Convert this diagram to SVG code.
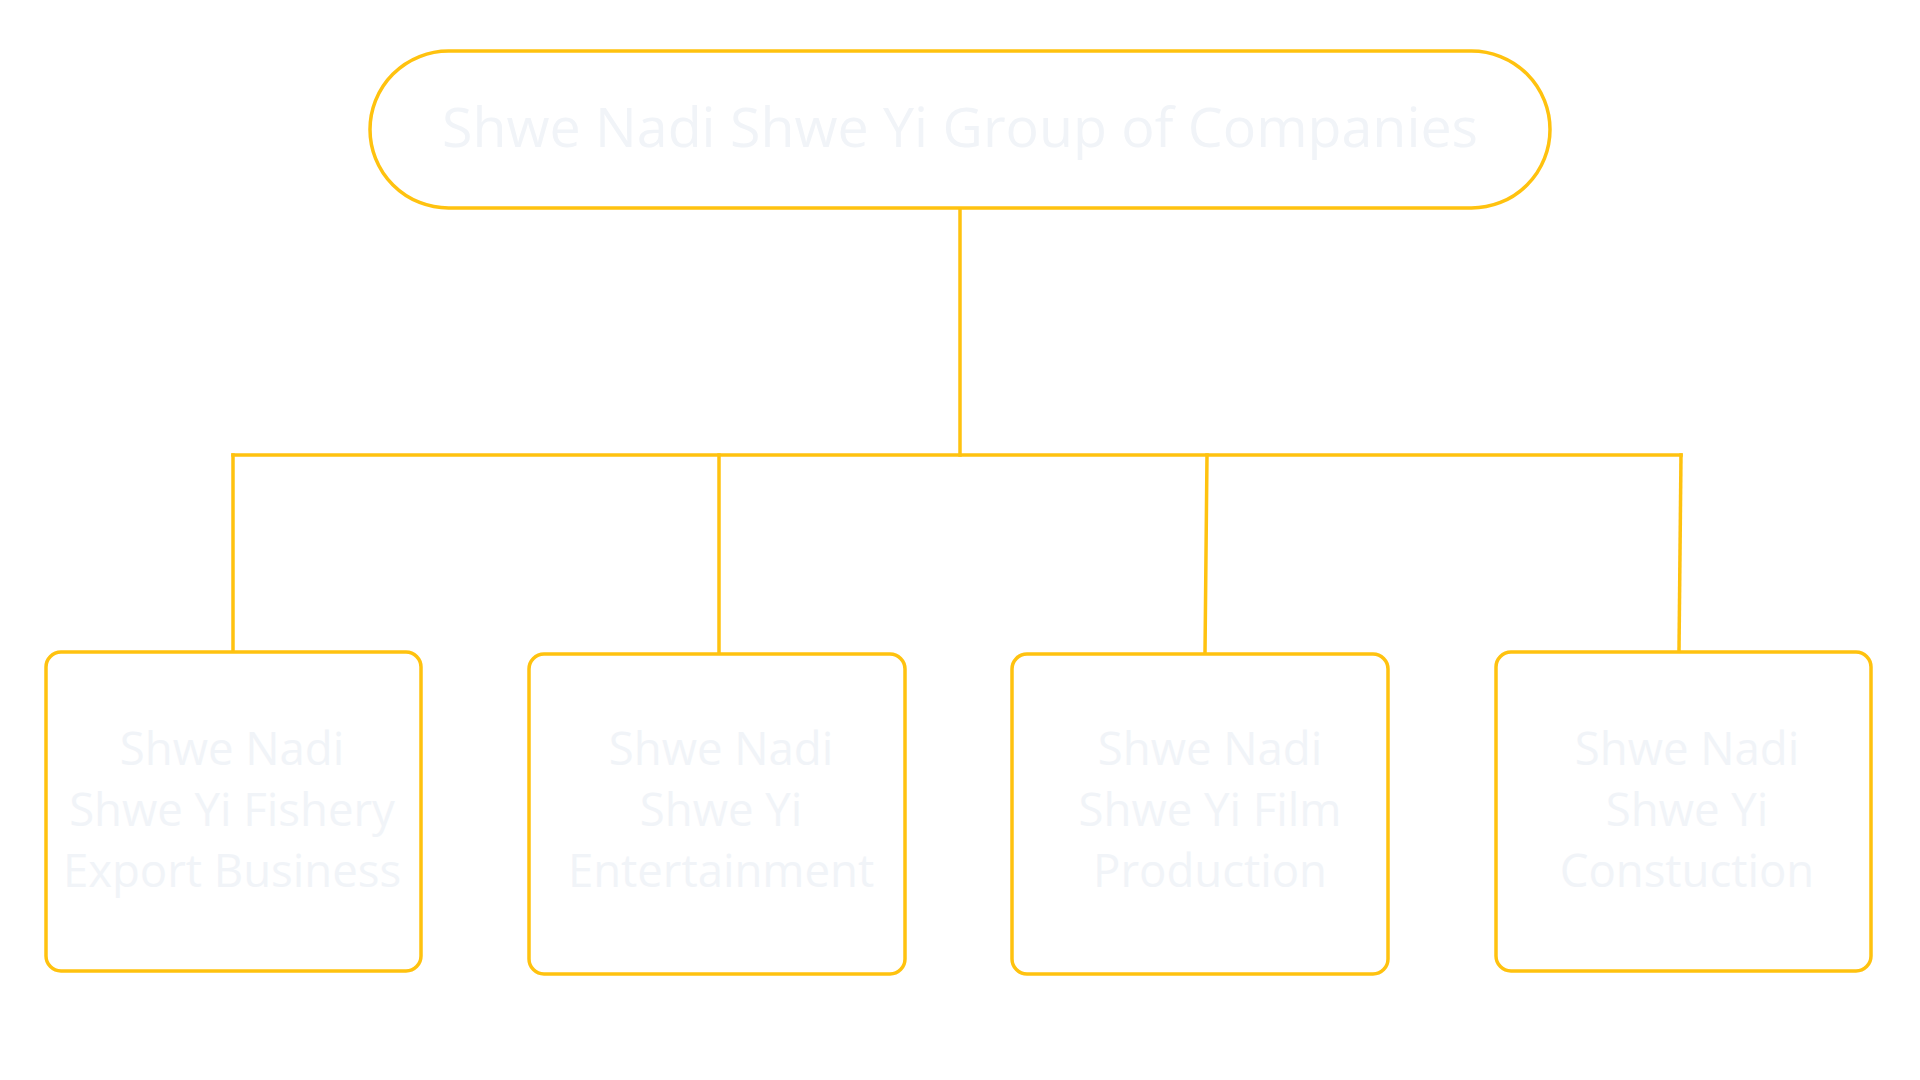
<svg xmlns="http://www.w3.org/2000/svg" width="1920" height="1080" viewBox="0 0 1920 1080">
<style>
.box{fill:#ffffff;stroke:#FFC20F;stroke-width:3.5}
.conn{fill:none;stroke:#FFC20F;stroke-width:3.5;stroke-linecap:square}
.t{font-family:"Open Sans","Liberation Sans",sans-serif;fill:#F1F4F8;text-anchor:middle}
.title{font-size:55.5px}
.lbl{font-size:45.5px}
</style>
<rect width="1920" height="1080" fill="#ffffff"/>
<g id="connectors">
<line class="conn" x1="960" y1="208" x2="960" y2="455"/>
<line class="conn" x1="233" y1="455" x2="1681" y2="455"/>
<line class="conn" x1="233" y1="455" x2="233" y2="651"/>
<line class="conn" x1="719" y1="455" x2="719" y2="653"/>
<line class="conn" x1="1207" y1="455" x2="1205" y2="653"/>
<line class="conn" x1="1681" y1="455" x2="1679" y2="651"/>
</g>
<g id="node-root">
<rect class="box" x="370" y="51" width="1180" height="157" rx="78.5" ry="78.5"/>
<text class="t title" x="960" y="147">Shwe Nadi Shwe Yi Group of Companies</text>
</g>
<g id="node-fishery">
<rect class="box" x="46" y="652" width="375" height="319" rx="15"/>
<text class="t lbl" x="232"><tspan x="232" y="765">Shwe Nadi</tspan><tspan x="232" y="826">Shwe Yi Fishery</tspan><tspan x="232" y="887">Export Business</tspan></text>
</g>
<g id="node-entertainment">
<rect class="box" x="529" y="654" width="376" height="320" rx="15"/>
<text class="t lbl" x="721"><tspan x="721" y="765">Shwe Nadi</tspan><tspan x="721" y="826">Shwe Yi</tspan><tspan x="721" y="887">Entertainment</tspan></text>
</g>
<g id="node-film">
<rect class="box" x="1012" y="654" width="376" height="320" rx="15"/>
<text class="t lbl" x="1210"><tspan x="1210" y="765">Shwe Nadi</tspan><tspan x="1210" y="826">Shwe Yi Film</tspan><tspan x="1210" y="887">Production</tspan></text>
</g>
<g id="node-construction">
<rect class="box" x="1496" y="652" width="375" height="319" rx="15"/>
<text class="t lbl" x="1687"><tspan x="1687" y="765">Shwe Nadi</tspan><tspan x="1687" y="826">Shwe Yi</tspan><tspan x="1687" y="887">Constuction</tspan></text>
</g>
</svg>
